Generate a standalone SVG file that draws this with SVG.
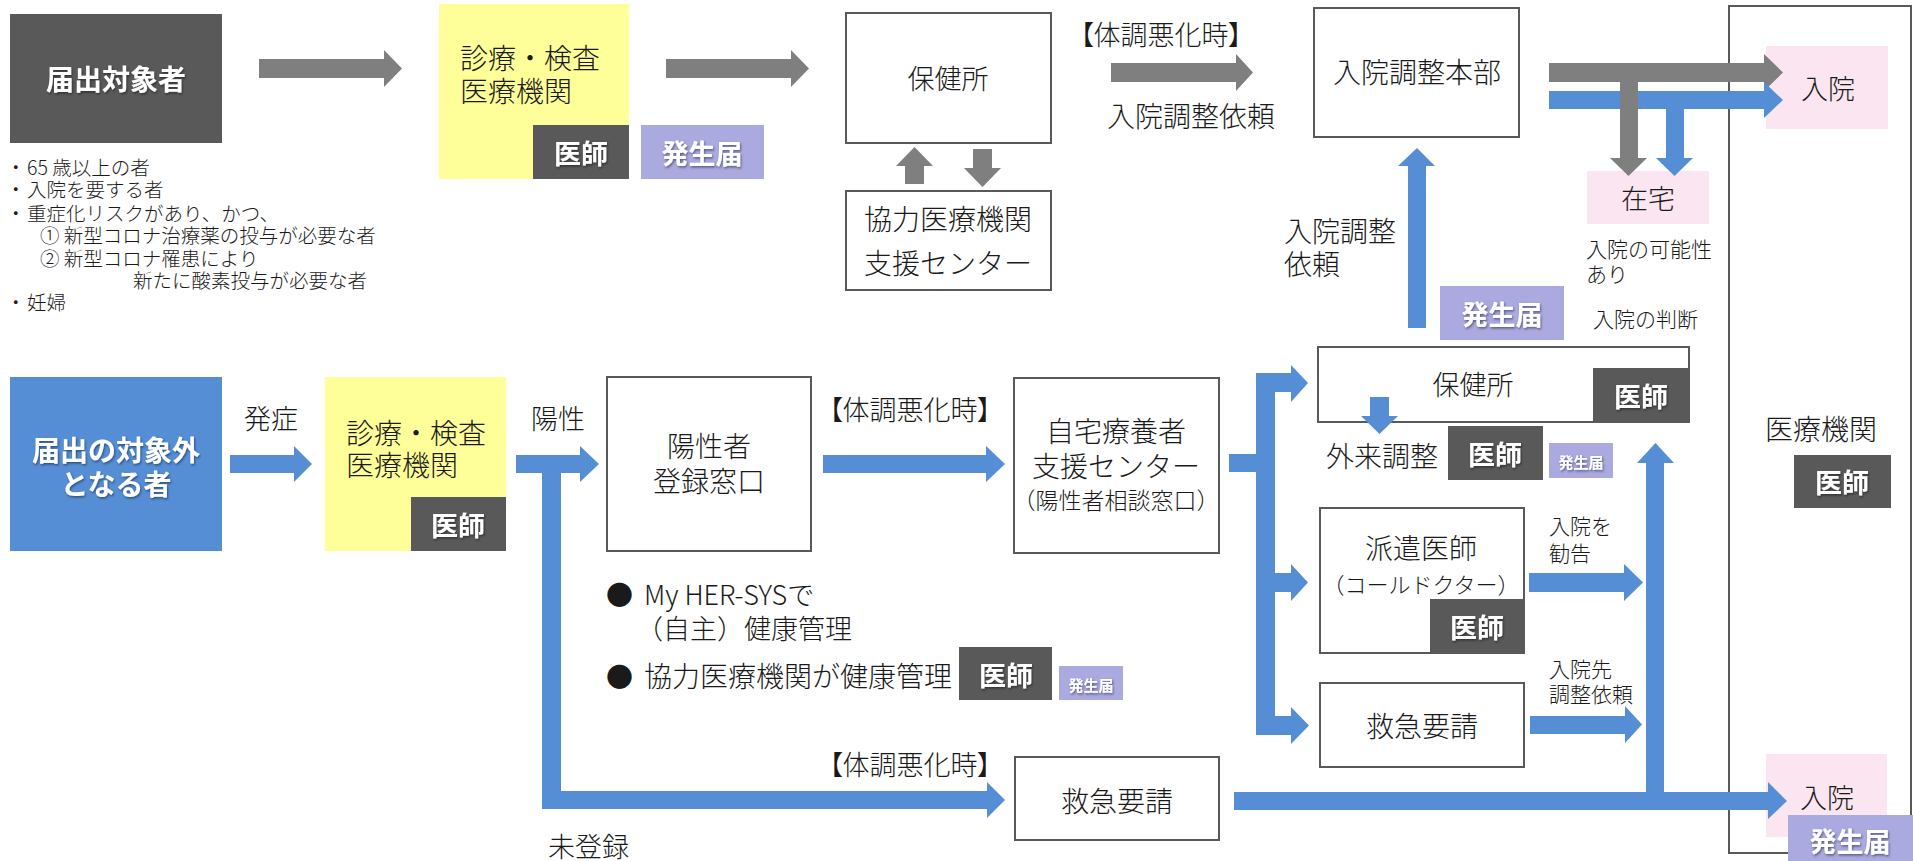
<svg xmlns="http://www.w3.org/2000/svg" width="1913" height="861" viewBox="0 0 1913 861">
<style>
text{font-family:"Noto Sans CJK JP","Noto Sans",sans-serif;fill:#1a1a1a;font-weight:300}
.c{text-anchor:middle;dominant-baseline:central}
.l{dominant-baseline:central}
.f28{font-size:28px}.f27{font-size:27px}.f21{font-size:21px}.f18{font-size:19.5px}
.w{fill:#fff;font-weight:700;filter:url(#sh)}
.box{fill:#fff;stroke:#595959;stroke-width:2}
.dk{fill:#595959}.yl{fill:#ffff99}.lv{fill:#aaa9e0}.pk{fill:#fbe5f0}.bl{fill:#558ed5}
.ga{fill:#7f7f7f}.ba{fill:#558ed5}
.p{font-feature-settings:"palt"}
</style>
<defs>
<filter id="sh" x="-10%" y="-10%" width="130%" height="140%"><feDropShadow dx="1" dy="1.5" stdDeviation="1" flood-color="#000" flood-opacity="0.45"/></filter>
</defs>

<g id="bigbox"><rect class="box" x="1729" y="6" width="182" height="847"/>
<text class="c f28" x="1821" y="428">医療機関</text>
<rect class="dk" x="1794" y="455" width="97" height="53"/><text class="c f27 w" x="1842" y="481">医師</text></g>

<g id="todokede-taisho"><rect class="dk" x="10" y="14" width="212" height="129"/>
<text class="c f28 w" x="116" y="78">届出対象者</text></g>

<g id="criteria" class="f18">
<text class="l" x="6" y="166">・</text><text class="l" x="27" y="166">65 歳以上の者</text>
<text class="l" x="6" y="188">・</text><text class="l" x="27" y="188">入院を要する者</text>
<text class="l" x="6" y="212">・</text><text class="l" x="27" y="212">重症化リスクがあり、かつ、</text>
<text class="l" x="40" y="234">① 新型コロナ治療薬の投与が必要な者</text>
<text class="l" x="40" y="257">② 新型コロナ罹患により</text>
<text class="l" x="133" y="279">新たに酸素投与が必要な者</text>
<text class="l" x="6" y="301">・</text><text class="l" x="27" y="301">妊婦</text>
</g>

<g id="shinryo1"><rect class="yl" x="439" y="4" width="190" height="175"/>
<text class="l f28" x="460" y="57">診療・検査</text><text class="l f28" x="460" y="90">医療機関</text>
<rect class="dk" x="533" y="125" width="96" height="54"/><text class="c f27 w" x="581" y="152">医師</text></g>

<g id="hasseitodoke1"><rect class="lv" x="641" y="125" width="123" height="54"/><text class="c f27 w" x="702" y="152">発生届</text></g>

<g id="hokenjo1"><rect class="box" x="846" y="13" width="205" height="130"/><text class="c f27" x="948" y="77">保健所</text></g>

<g id="kyoryoku"><rect class="box" x="846" y="191" width="205" height="99"/>
<text class="c f28" x="948" y="218">協力医療機関</text><text class="c f28" x="948" y="262">支援センター</text></g>

<g id="label-top"><text class="c f27 p" x="1161" y="33">【体調悪化時】</text>
<text class="l f28" x="1107" y="115">入院調整依頼</text></g>

<g id="honbu"><rect class="box" x="1314" y="8" width="205" height="129"/><text class="c f28" x="1417" y="71">入院調整本部</text></g>

<g id="nyuin1"><rect class="pk" x="1766" y="46" width="122" height="83"/><text class="c f27" x="1828" y="87">入院</text></g>

<g id="zaitaku"><rect class="pk" x="1587" y="171" width="122" height="53"/><text class="c f27" x="1648" y="197">在宅</text>
<text class="l f21" x="1586" y="248">入院の可能性</text><text class="l f21" x="1586" y="273">あり</text>
<text class="l f21" x="1593" y="318">入院の判断</text></g>

<g id="chosei-irai"><text class="l f28" x="1284" y="230">入院調整</text><text class="l f28" x="1284" y="263">依頼</text>
<rect class="lv" x="1440" y="286" width="124" height="54"/><text class="c f27 w" x="1502" y="313">発生届</text></g>

<g id="taishogai"><rect class="bl" x="10" y="377" width="212" height="174"/>
<text class="c f28 w" x="116" y="449">届出の対象外</text><text class="c f28 w" x="116" y="483">となる者</text></g>

<g id="label-hassho"><text class="l f27" x="244" y="417">発症</text></g>

<g id="shinryo2"><rect class="yl" x="325" y="377" width="181" height="174"/>
<text class="l f28" x="346" y="432">診療・検査</text><text class="l f28" x="346" y="464">医療機関</text>
<rect class="dk" x="411" y="497" width="95" height="54"/><text class="c f27 w" x="458" y="524">医師</text></g>

<g id="label-yosei"><text class="l f27" x="531" y="417">陽性</text></g>

<g id="toroku"><rect class="box" x="607" y="377" width="204" height="174"/>
<text class="c f28" x="709" y="445">陽性者</text><text class="c f28" x="709" y="480">登録窓口</text></g>

<g id="label-mid"><text class="c f27 p" x="910" y="408">【体調悪化時】</text></g>

<g id="jitaku"><rect class="box" x="1014" y="378" width="205" height="175"/>
<text class="c f28" x="1116" y="430">自宅療養者</text><text class="c f28" x="1116" y="465">支援センター</text>
<text class="c" style="font-size:23px" x="1116" y="499">（陽性者相談窓口）</text></g>

<g id="kenko-kanri">
<text class="l f27" x="606" y="593">●</text><text class="l f27" x="644" y="593">My HER-SYSで</text>
<text class="l f27" x="636" y="627">（自主）健康管理</text>
<text class="l f27" x="606" y="675">●</text><text class="l f28" x="644" y="675">協力医療機関が健康管理</text>
<rect class="dk" x="959" y="647" width="93" height="53"/><text class="c f27 w" x="1006" y="674">医師</text>
<rect class="lv" x="1059" y="666" width="64" height="34"/><text class="c w" style="font-size:15px" x="1091" y="684">発生届</text></g>

<g id="label-bottom"><text class="c f27 p" x="910" y="763">【体調悪化時】</text>
<text class="l f27" x="548" y="845">未登録</text></g>

<g id="kyukyu1"><rect class="box" x="1015" y="757" width="204" height="83"/><text class="c f28" x="1117" y="800">救急要請</text></g>

<g id="hokenjo2"><rect class="box" x="1318" y="347" width="371" height="75"/><text class="c f27" x="1473" y="383">保健所</text>
<rect class="dk" x="1593" y="368" width="96" height="54"/><text class="c f27 w" x="1641" y="395">医師</text></g>

<g id="gairai"><text class="l f28" x="1326" y="455">外来調整</text>
<rect class="dk" x="1448" y="426" width="95" height="54"/><text class="c f27 w" x="1495" y="453">医師</text>
<rect class="lv" x="1549" y="443" width="64" height="35"/><text class="c w" style="font-size:15px" x="1581" y="461">発生届</text></g>

<g id="haken"><rect class="box" x="1320" y="508" width="204" height="145"/>
<text class="c f28" x="1421" y="547">派遣医師</text><text class="c" style="font-size:22px" x="1421" y="583">（コールドクター）</text>
<rect class="dk" x="1430" y="599" width="94" height="54"/><text class="c f27 w" x="1477" y="626">医師</text>
<text class="l f21" x="1549" y="525">入院を</text><text class="l f21" x="1549" y="552">勧告</text></g>

<g id="kyukyu2"><rect class="box" x="1320" y="683" width="204" height="84"/><text class="c f28" x="1422" y="725">救急要請</text>
<text class="l f21" x="1549" y="668">入院先</text><text class="l f21" x="1549" y="693">調整依頼</text></g>

<g id="nyuin2"><rect class="pk" x="1766" y="754" width="121" height="83"/><text class="c f27" x="1827" y="796">入院</text></g>

<g id="connectors">
<polygon class="ga" points="259,59 384,59 384,50 402,68.5 384,87 384,78 259,78"/>
<polygon class="ga" points="666,59 791,59 791,50 809,68.5 791,87 791,78 666,78"/>
<polygon class="ga" points="1111,63 1236,63 1236,54 1253,72.5 1236,91 1236,82 1111,82"/>
<polygon class="ga" points="905,184 905,166 896,166 914.5,147 933,166 924,166 924,184"/>
<polygon class="ga" points="973,149 992,149 992,168 1001,168 982.5,187 964,168 973,168"/>
<polygon class="ga" points="1549,63 1764,63 1764,54 1783,72.5 1764,91 1764,82 1549,82"/>
<polygon class="ba" points="1549,91 1764,91 1764,82 1783,100 1764,118 1764,109 1549,109"/>
<polygon class="ga" points="1620,82 1638,82 1638,158 1647,158 1628.5,176 1610,158 1620,158"/>
<polygon class="ba" points="1666,109 1684,109 1684,158 1693,158 1674.5,176 1656,158 1666,158"/>
<polygon class="ba" points="1408,328 1408,166 1398,166 1417,148 1435,166 1426,166 1426,328"/>
<polygon class="ba" points="230,455 294,455 294,446 312,464 294,482 294,473 230,473"/>
<polygon class="ba" points="516,455 580,455 580,446 599,464 580,482 580,473 516,473"/>
<polygon class="ba" points="542,464 561,464 561,791 987,791 987,782 1005,800 987,818 987,809 542,809"/>
<polygon class="ba" points="823,455 986,455 986,446 1005,464 986,482 986,473 823,473"/>
<rect class="ba" x="1229" y="454" width="46" height="18"/>
<rect class="ba" x="1256" y="373" width="19" height="362"/>
<polygon class="ba" points="1256,373 1291,373 1291,365 1308,383 1291,402 1291,392 1256,392"/>
<polygon class="ba" points="1256,573 1291,573 1291,564 1308,582.5 1291,601 1291,592 1256,592"/>
<polygon class="ba" points="1256,716 1291,716 1291,707 1309,725.5 1291,744 1291,735 1256,735"/>
<polygon class="ba" points="1370,397 1389,397 1389,416 1398,416 1379.5,434 1361,416 1370,416"/>
<polygon class="ba" points="1529,573 1624,573 1624,564 1643,582.5 1624,601 1624,592 1529,592"/>
<polygon class="ba" points="1530,716 1625,716 1625,706 1642,724.5 1625,743 1625,734 1530,734"/>
<polygon class="ba" points="1646,800 1646,463 1637,463 1655.5,443 1674,463 1664,463 1664,800"/>
<polygon class="ba" points="1234,792 1768,792 1768,782 1787,801 1768,819 1768,810 1234,810"/>
</g>

<g id="hasseitodoke-last"><rect class="lv" x="1788" y="815" width="125" height="46"/><text class="c f27 w" x="1850" y="840">発生届</text></g>
</svg>
